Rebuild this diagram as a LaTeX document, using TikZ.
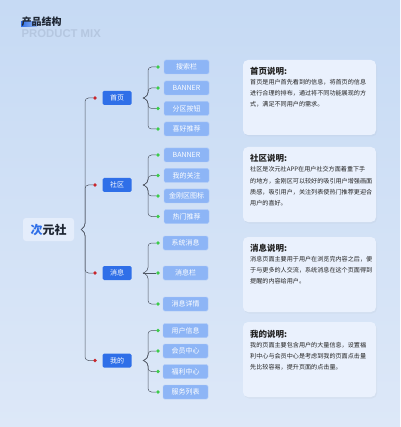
\documentclass[tikz,border=0pt]{standalone}
\usepackage{fontspec}
\setmainfont{Noto Sans CJK SC}
\newfontfamily\latinbold{Liberation Sans}
\usetikzlibrary{shadows}
\definecolor{bgtop}{HTML}{C6DAF4}
\definecolor{bgbot}{HTML}{DDE8F8}
\definecolor{branchblue}{HTML}{2F6FE8}
\definecolor{leafblue}{HTML}{8DB5F6}
\definecolor{cardfill}{HTML}{EAF1FD}
\definecolor{rootfill}{HTML}{E4EDFB}
\definecolor{dotred}{HTML}{C8262C}
\definecolor{dotgreen}{HTML}{3CCB4A}
\definecolor{linegray}{HTML}{4F5663}
\definecolor{titledark}{HTML}{1E2633}
\definecolor{subgray}{HTML}{B5C7E0}
\definecolor{txtdark}{HTML}{222222}
\tikzset{
  rootbox/.style={draw=none, fill=rootfill, rounded corners=3pt, minimum width=51pt, minimum height=23pt, inner sep=0pt, font=\fontsize{12}{14}\selectfont\bfseries},
  branchbox/.style={draw=none, fill=branchblue, rounded corners=1.5pt, minimum width=29pt, minimum height=14pt, inner sep=0pt, text=white, font=\fontsize{7}{8}\selectfont},
  leafbox/.style={draw=leafblue!70!white, line width=0.4pt, fill=leafblue, rounded corners=1.5pt, minimum width=45pt, minimum height=14pt, inner sep=0pt, text=white, font=\fontsize{7}{8}\selectfont},
  reddot/.style={circle, fill=dotred, draw=none, minimum size=3.6pt, inner sep=0pt},
  greendot/.style={circle, fill=dotgreen, draw=none, minimum size=3.6pt, inner sep=0pt},
  conn/.style={draw=linegray, line width=0.5pt, rounded corners=3.5pt},
  card/.style={fill=cardfill, draw=none, rounded corners=5pt, minimum width=133pt, minimum height=75pt, inner sep=0pt, drop shadow={opacity=0.06, shadow xshift=1pt, shadow yshift=-1.5pt}},
  cardtitle/.style={anchor=west, inner sep=0pt, text=txtdark, font=\fontsize{8.5}{10}\selectfont\bfseries},
  cardtext/.style={anchor=north west, inner sep=0pt, align=left, text=txtdark, font=\fontsize{6.1}{11.2}\selectfont}
}
\begin{document}
\begin{tikzpicture}[x=1pt,y=-1pt]
\useasboundingbox (0,0) rectangle (400,427);
\shade[top color=bgtop, bottom color=bgbot] (0,0) rectangle (400,427);

% title
\fill[left color=branchblue, right color=branchblue!30!bgtop] (21,22) rectangle (37,26.5);
\node[anchor=west, inner sep=0pt, text=titledark, font=\fontsize{10}{12}\selectfont\bfseries] (title) at (21.5,21.5) {产品结构};
\node[anchor=west, inner sep=0pt, text=subgray, font=\latinbold\fontsize{11.3}{13}\selectfont\bfseries] (subtitle) at (21.5,33.5) {PRODUCT MIX};

% root
\node[rootbox] (root) at (48.5,229.5) {\textcolor{branchblue}{次}\textcolor{titledark}{元社}};
\coordinate (rtip) at (81,229.5);

% branches
\node[branchbox] (b1) at (117,98) {首页};
\node[branchbox] (b2) at (117,185) {社区};
\node[branchbox] (b3) at (117,273) {消息};
\node[branchbox] (b4) at (117,360.5) {我的};
\node[reddot] (r1) at (95,98) {};
\node[reddot] (r2) at (95,185) {};
\node[reddot] (r3) at (95,273) {};
\node[reddot] (r4) at (95,360.5) {};
\draw[conn] (rtip) -- (85,227) |- (r1);
\draw[conn] (rtip) -- (85,227) |- (r2);
\draw[conn] (rtip) -- (85,232) |- (r3);
\draw[conn] (rtip) -- (85,232) |- (r4);

% leaves of 首页
\node[leafbox] (l11) at (186.5,67) {搜索栏};
\node[leafbox] (l12) at (186.5,88) {BANNER};
\node[leafbox] (l13) at (186.5,108.5) {分区按钮};
\node[leafbox] (l14) at (186.5,129) {喜好推荐};
% leaves of 社区
\node[leafbox] (l21) at (186.5,155) {BANNER};
\node[leafbox] (l22) at (186.5,175.5) {我的关注};
\node[leafbox] (l23) at (186.5,196) {金刚区图标};
\node[leafbox] (l24) at (186.5,216.5) {热门推荐};
% leaves of 消息
\node[leafbox] (l31) at (185.5,243) {系统消息};
\node[leafbox] (l32) at (185.5,273) {消息栏};
\node[leafbox] (l33) at (185.5,304) {消息详情};
% leaves of 我的
\node[leafbox] (l41) at (185.5,330.5) {用户信息};
\node[leafbox] (l42) at (185.5,351) {会员中心};
\node[leafbox] (l43) at (185.5,371.5) {福利中心};
\node[leafbox] (l44) at (185.5,392) {服务列表};

% green dots
\foreach \n/\y in {11/67,12/88,13/108.5,14/129,21/155,22/175.5,23/196,24/216.5,31/243,32/273,33/304,41/330.5,42/351,43/371.5,44/392}{
  \node[greendot] (g\n) at (158,\y) {};
}

% sub connectors
\coordinate (t1) at (143,98);
\coordinate (t2) at (143,185);
\coordinate (t3) at (143,273);
\coordinate (t4) at (143,360.5);
\draw[conn] (t1) -- (148,96) |- (g11);
\draw[conn] (t1) -- (148,96) |- (g12);
\draw[conn] (t1) -- (148,100) |- (g13);
\draw[conn] (t1) -- (148,100) |- (g14);
\draw[conn] (t2) -- (148,183) |- (g21);
\draw[conn] (t2) -- (148,183) |- (g22);
\draw[conn] (t2) -- (148,187) |- (g23);
\draw[conn] (t2) -- (148,187) |- (g24);
\draw[conn] (t3) -- (148,271) |- (g31);
\draw[conn] (t3) -- (g32);
\draw[conn] (t3) -- (148,275) |- (g33);
\draw[conn] (t4) -- (148,358.5) |- (g41);
\draw[conn] (t4) -- (148,358.5) |- (g42);
\draw[conn] (t4) -- (148,362.5) |- (g43);
\draw[conn] (t4) -- (148,362.5) |- (g44);

% cards
\node[card] (c1) at (309.5,97.5) {};
\node[cardtitle] (c1t) at (250,71) {首页说明:};
\node[cardtext] (c1x) at (250,79) {首页是用户首先看到的信息，将首页的信息\\进行合理的排布，通过将不同功能展现的方\\式，满足不同用户的需求。};

\node[card] (c2) at (309.5,184.5) {};
\node[cardtitle] (c2t) at (250,158.5) {社区说明:};
\node[cardtext] (c2x) at (250,166.5) {社区是次元社APP在用户社交方面着重下手\\的地方，金刚区可以较好的吸引用户增强画面\\质感，吸引用户，关注列表使热门推荐更迎合\\用户的喜好。};

\node[card] (c3) at (309.5,274.5) {};
\node[cardtitle] (c3t) at (250,248) {消息说明:};
\node[cardtext] (c3x) at (250,256) {消息页面主要用于用户在浏览完内容之后，便\\于与更多的人交流，系统消息在这个页面得到\\提醒的内容给用户。};

\node[card] (c4) at (309.5,359.5) {};
\node[cardtitle] (c4t) at (250,334) {我的说明:};
\node[cardtext] (c4x) at (250,342) {我的页面主要包含用户的大量信息，设置福\\利中心与会员中心是考虑到我的页面点击量\\先比较容易，提升页面的点击量。};
\end{tikzpicture}
\end{document}
